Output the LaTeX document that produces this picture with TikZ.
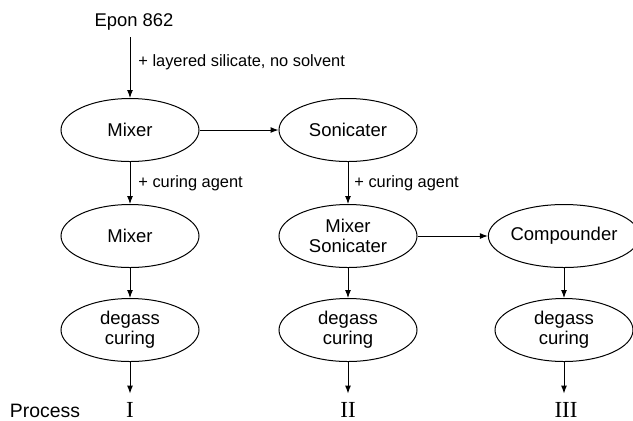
\documentclass[tikz,border=0pt]{standalone}
\usepackage{fontspec}
\setmainfont{Liberation Sans}
\newfontfamily\numfont{Liberation Serif}
\usetikzlibrary{shapes.geometric,arrows.meta}
\tikzset{
  unit/.style={draw, ellipse, line width=0.5pt, minimum width=69pt, minimum height=31.5pt,
    inner sep=0pt, align=center, font=\fontsize{9.25}{9.8}\selectfont},
  note/.style={anchor=west, inner sep=0pt, font=\fontsize{8.2}{9}\selectfont},
  flow/.style={-{Latex[length=4pt,width=3pt]}, line width=0.5pt},
  numeral/.style={anchor=base, inner sep=4pt, font=\numfont\fontsize{11.5}{12}\selectfont}
}
\begin{document}
\begin{tikzpicture}[x=0.5pt,y=-0.5pt]
            \useasboundingbox (0,0) rectangle (633,420);
            \node [font=\fontsize{9.2}{11}\selectfont] (epon) at (134,22) {Epon 862};
            \node [unit] (mixa) at (130,130) {Mixer};
            \node [unit] (sonic) at (348,130) {Sonicater};
            \node [unit] (mixb) at (130,236) {Mixer};
            \node [unit] (mixson) at (348,236) {Mixer\\Sonicater};
            \node [unit] (comp) at (564,236) {Compounder};
            \node [unit] (dga) at (130,330) {degass\\curing};
            \node [unit] (dgb) at (348,330) {degass\\curing};
            \node [unit] (dgc) at (564,330) {degass\\curing};
            \node [numeral] (pa) at (130,417) {I};
            \node [numeral] (pb) at (348,417) {II};
            \node [numeral] (pc) at (566,417) {III};
            \node [anchor=base, inner sep=0pt, font=\fontsize{9.7}{11}\selectfont] (proc) at (45,417) {Process};
            \node [note] (silicate) at (138,62) {+ layered silicate, no solvent};
            \node [note] (cura) at (138,183) {+ curing agent};
            \node [note] (curb) at (354,183) {+ curing agent};
            \draw [flow] (epon.south -| mixa.north) -- (mixa.north);
            \draw [flow] (mixa) -- (sonic);
            \draw [flow] (mixa) -- (mixb);
            \draw [flow] (sonic) -- (mixson);
            \draw [flow] (mixson) -- (comp);
            \draw [flow] (mixb) -- (dga);
            \draw [flow] (mixson) -- (dgb);
            \draw [flow] (comp) -- (dgc);
            \draw [flow] (dga) -- (pa.north);
            \draw [flow] (dgb) -- (pb.north);
            \draw [flow] (dgc) -- (dgc |- pc.north);
        \end{tikzpicture}
\end{document}
